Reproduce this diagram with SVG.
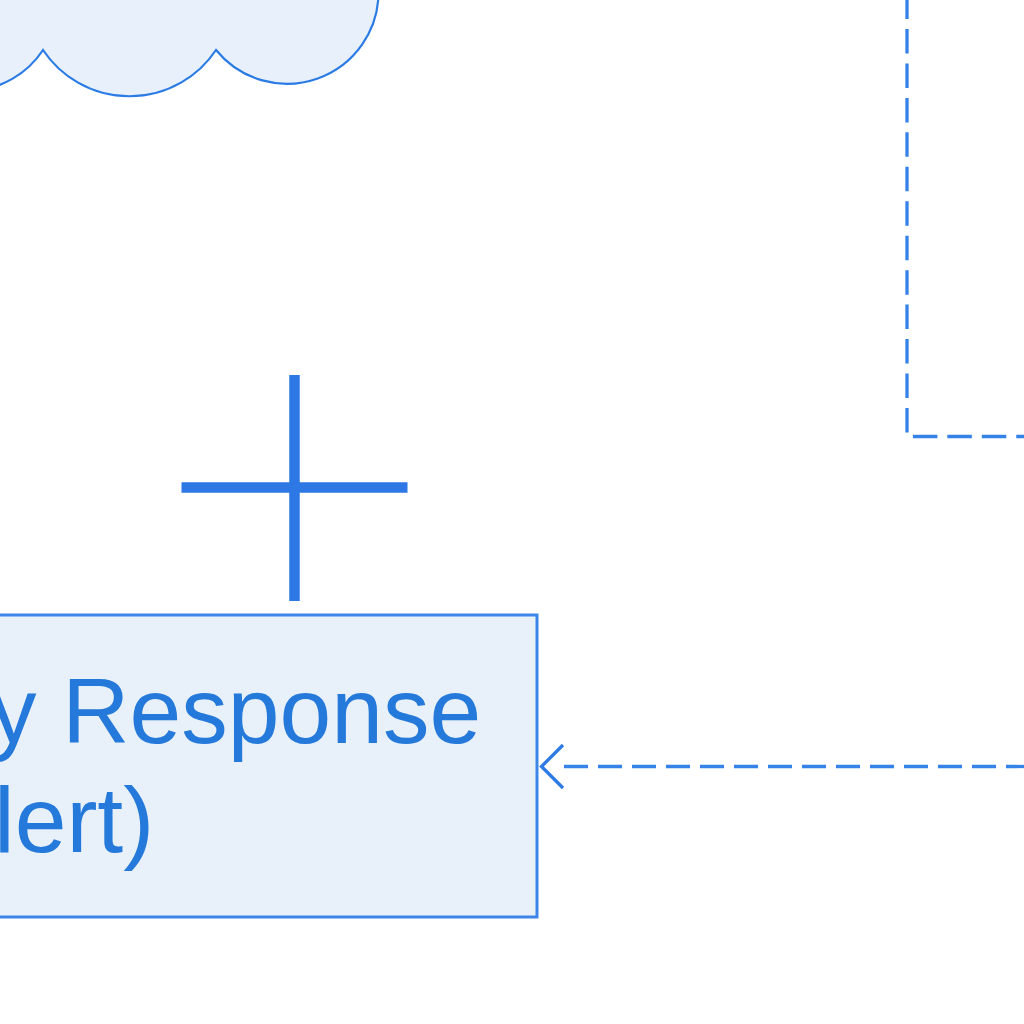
<svg xmlns="http://www.w3.org/2000/svg" width="1024" height="1024" viewBox="0 0 1024 1024">
  <defs>
    <style>
      .shape { fill: #e8f1fb; stroke: #2b7be5; stroke-width: 2.2; }
      .box { fill: #e8f1fa; stroke: #3d86e7; stroke-width: 3; }
      .dash { fill: none; stroke: #3582e8; stroke-width: 3.3; stroke-dasharray: 24.5 9.95; }
      .label { font-family: "Liberation Sans", Arial, Helvetica, sans-serif; font-size: 93px; fill: #2479da; }
      .cross { stroke: #2d78e4; stroke-width: 10.5; fill: none; }
    </style>
  </defs>
  <rect width="1024" height="1024" fill="#ffffff"/>

  <g id="cloud">
    <path class="shape" d="M -110,46 A 90 90 0 0 0 43,50 A 104 104 0 0 0 216,50 A 91.5 91.5 0 0 0 378.5,-8 L 378.5,-60 L -120,-60 Z"/>
  </g>

  <g id="container">
    <path class="dash" d="M 907,-5.45 L 907,436.5 L 1040,436.5"/>
  </g>

  <g id="plus">
    <line class="cross" x1="294.5" y1="375" x2="294.5" y2="601"/>
    <line class="cross" x1="181.5" y1="487.5" x2="407.5" y2="487.5"/>
  </g>

  <g id="response-node">
    <rect class="box" x="-20" y="615" width="557" height="302"/>
    <text class="label" x="-10" y="743">y Response</text>
    <text class="label" x="-6" y="852">lert)</text>
  </g>

  <g id="connectors">
    <path fill="none" stroke="#3582e8" stroke-width="3.3" stroke-dasharray="24 10" d="M 1030,766.5 L 562,766.5"/>
    <polyline fill="none" stroke="#2f7be6" stroke-width="3.3" points="563,745 541.5,766.5 563,788"/>
  </g>
</svg>
